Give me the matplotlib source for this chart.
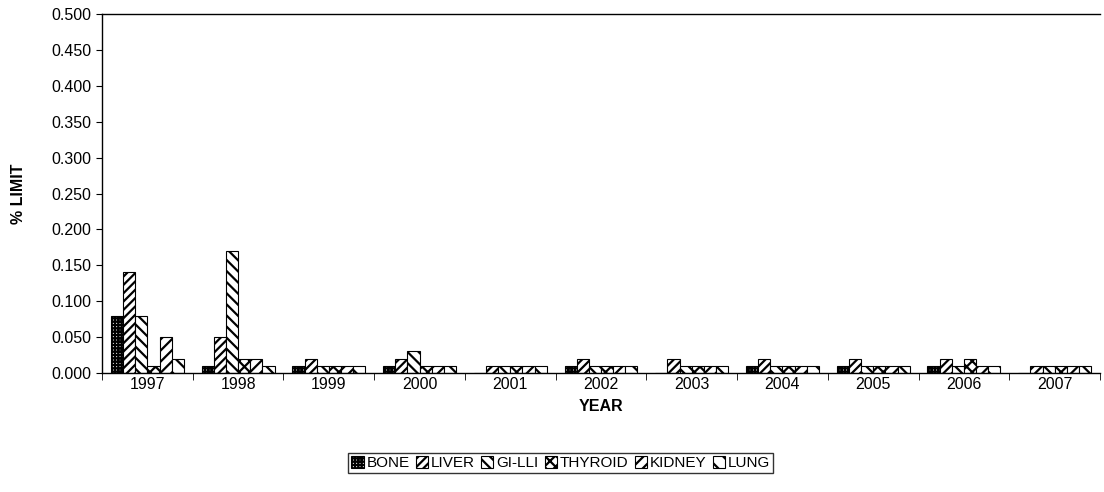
import numpy as np
import matplotlib
matplotlib.use("Agg")
from matplotlib import pyplot as plt

plt.rcParams['font.family'] = ['Liberation Sans', 'DejaVu Sans']
plt.rcParams['hatch.linewidth'] = 1.6

years = ['1997', '1998', '1999', '2000', '2001', '2002', '2003', '2004', '2005', '2006', '2007']
organs = ['BONE', 'LIVER', 'GI-LLI', 'THYROID', 'KIDNEY', 'LUNG']

bone    = [0.080, 0.010, 0.010, 0.010, 0.000, 0.010, 0.000, 0.010, 0.010, 0.010, 0.000]
liver   = [0.140, 0.050, 0.020, 0.020, 0.010, 0.020, 0.020, 0.020, 0.020, 0.020, 0.010]
gi_lli  = [0.080, 0.170, 0.010, 0.030, 0.010, 0.010, 0.010, 0.010, 0.010, 0.010, 0.010]
thyroid = [0.010, 0.020, 0.010, 0.010, 0.010, 0.010, 0.010, 0.010, 0.010, 0.020, 0.010]
kidney  = [0.050, 0.020, 0.010, 0.010, 0.010, 0.010, 0.010, 0.010, 0.010, 0.010, 0.010]
lung    = [0.020, 0.010, 0.010, 0.010, 0.010, 0.010, 0.010, 0.010, 0.010, 0.010, 0.010]

series = [bone, liver, gi_lli, thyroid, kidney, lung]
hatches = ['+++++', '////', '\\\\\\', 'xxx', '///', '\\\\']

fig = plt.figure(figsize=(11.04, 4.92), dpi=100)
ax = fig.add_axes([0.0924, 0.2419, 0.904, 0.7296])

x = np.arange(len(years))
w = 0.134
for i, (vals, name, h) in enumerate(zip(series, organs, hatches)):
    ax.bar(x + (i - 2.5) * w, vals, w, label=name, facecolor='white',
           edgecolor='black', hatch=h, linewidth=0.8)

ax.set_xlim(-0.5, len(years) - 0.5)
ax.set_ylim(0, 0.5)
ax.set_yticks(np.arange(0, 0.501, 0.05))
ax.set_yticklabels([f"{v:.3f}" for v in np.arange(0, 0.501, 0.05)])
ax.set_xticks(x)
ax.set_xticklabels(years)
ax.set_xticks(np.arange(-0.5, len(years)), minor=True)
ax.tick_params(axis='x', which='major', length=0, labelsize=11.5, pad=3)
ax.tick_params(axis='x', which='minor', length=5, direction='out')
ax.tick_params(axis='y', labelsize=11.5, length=4, direction='out')

ax.spines['right'].set_visible(False)
for s in ['left', 'top', 'bottom']:
    ax.spines[s].set_linewidth(1.0)

ax.set_xlabel('YEAR', fontsize=11.5, fontweight='bold', labelpad=5)
ax.set_ylabel('% LIMIT', fontsize=11.5, fontweight='bold', labelpad=18)

leg = fig.legend(loc='center', bbox_to_anchor=(0.508, 0.059), ncol=6, fontsize=11,
                 frameon=True, fancybox=False, edgecolor='black',
                 handlelength=0.8, handleheight=0.8, handletextpad=0.2,
                 columnspacing=0.4, borderpad=0.2)
leg.get_frame().set_linewidth(1.0)

fig.savefig('out.png', dpi=100)
